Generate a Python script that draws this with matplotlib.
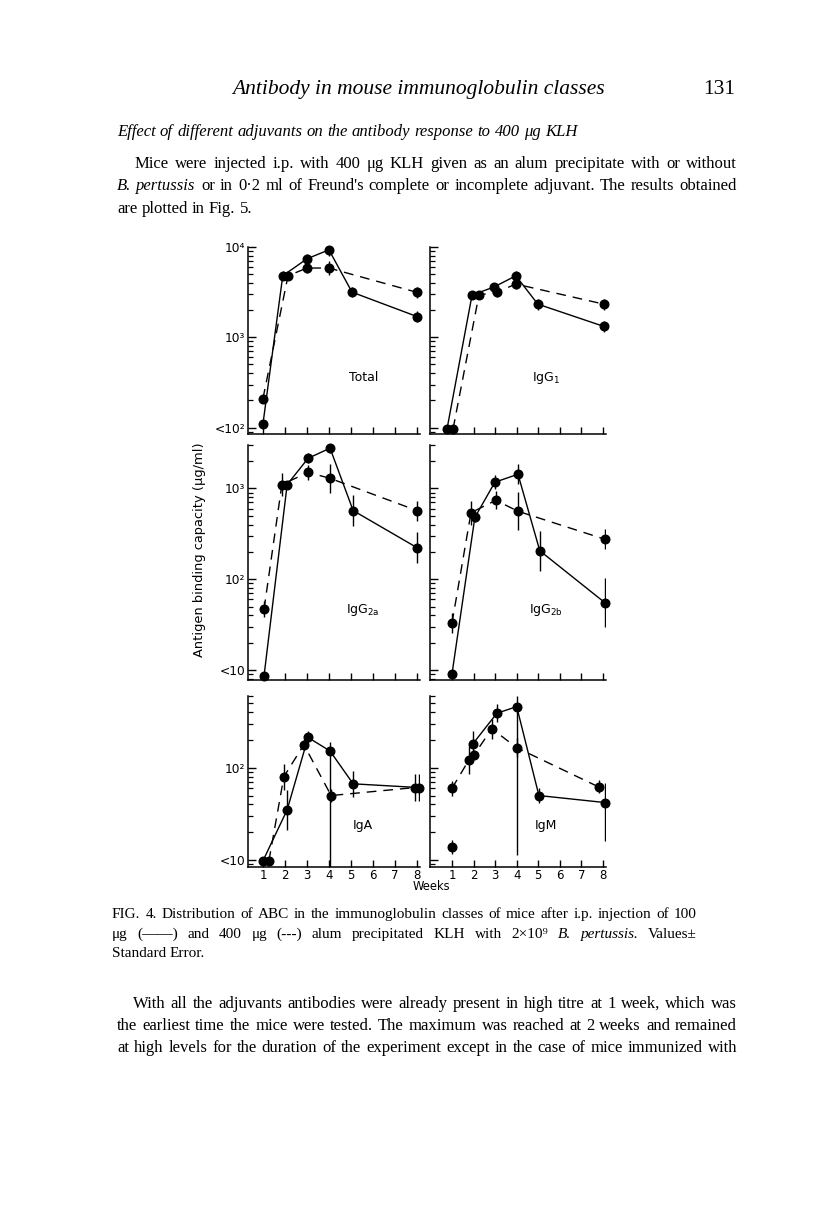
import numpy as np
import matplotlib
matplotlib.use("Agg")
import matplotlib.pyplot as plt
from matplotlib.ticker import LogLocator, NullFormatter, FixedLocator

W, H = 816, 1212

# ---- data (weeks, antigen binding capacity ug/ml, SE in log10 units) ----
WEEKS = [1, 2, 3, 4, 5, 6, 7, 8]

TOTAL_SOLID_X = [1.0, 1.9, 3.0, 4.0, 5.05, 8.0]
TOTAL_SOLID_Y = [110, 4800, 7400, 9300, 3160, 1700]
TOTAL_SOLID_SE = [0.03, 0.05, 0.05, 0.065, 0.055, 0.06]
TOTAL_DASH_X = [1.0, 2.14, 3.0, 4.0, 8.0]
TOTAL_DASH_Y = [210, 4800, 5850, 5850, 3150]
TOTAL_DASH_SE = [0.055, 0.05, 0.05, 0.08, 0.06]

IGG1_SOLID_X = [0.77, 1.93, 2.94, 3.96, 4.98, 8.04]
IGG1_SOLID_Y = [97, 2940, 3600, 4800, 2330, 1320]
IGG1_SOLID_SE = [0.02, 0.04, 0.05, 0.05, 0.06, 0.06]
IGG1_DASH_X = [1.05, 2.25, 3.08, 3.96, 8.04]
IGG1_DASH_Y = [97, 2940, 3160, 3890, 2330]
IGG1_DASH_SE = [0.02, 0.04, 0.05, 0.06, 0.06]

IGG2A_SOLID_X = [1.05, 2.1, 3.05, 4.05, 5.1, 8.0]
IGG2A_SOLID_Y = [8.7, 1100, 2140, 2770, 570, 223]
IGG2A_SOLID_SE = [0.04, 0.04, 0.055, 0.055, 0.17, 0.17]
IGG2A_DASH_X = [1.05, 1.86, 3.05, 4.05, 8.0]
IGG2A_DASH_Y = [47, 1100, 1500, 1290, 570]
IGG2A_DASH_SE = [0.09, 0.13, 0.08, 0.16, 0.11]

IGG2B_SOLID_X = [1.0, 2.06, 2.99, 4.06, 5.07, 8.1]
IGG2B_SOLID_Y = [9.1, 480, 1170, 1430, 206, 55]
IGG2B_SOLID_SE = [0.03, 0.05, 0.08, 0.11, 0.22, 0.27]
IGG2B_DASH_X = [1.0, 1.88, 3.03, 4.06, 8.1]
IGG2B_DASH_Y = [33, 540, 740, 560, 275]
IGG2B_DASH_SE = [0.11, 0.13, 0.1, 0.21, 0.11]

IGA_SOLID_X = [1.0, 2.1, 3.05, 4.05, 5.1, 8.1]
IGA_SOLID_Y = [9.8, 35, 213, 152, 67, 61]
IGA_SOLID_SE = [0.02, 0.22, 0.07, (1.3, 0.1), 0.14, 0.15]
IGA_DASH_X = [1.27, 1.95, 2.86, 4.1, 7.9]
IGA_DASH_Y = [9.8, 80, 178, 50, 61]
IGA_DASH_SE = [0.02, 0.14, 0.06, 0.07, 0.15]

IGM_LONE_X = [1.0]
IGM_LONE_Y = [13.8]
IGM_LONE_SE = [0.08]
IGM_SOLID_X = [1.97, 3.08, 4.0, 5.03, 8.08]
IGM_SOLID_Y = [182, 390, 460, 50, 42]
IGM_SOLID_SE = [0.14, 0.1, (1.61, 0.11), 0.08, (0.42, 0.21)]
IGM_DASH_X = [1.0, 1.79, 2.02, 2.85, 4.0, 7.8]
IGM_DASH_Y = [60, 122, 138, 265, 165, 62]
IGM_DASH_SE = [0.08, 0.15, 0.05, 0.11, 0.1, 0.07]

ROW_YTICKS = [[1e2, 1e3, 1e4], [1e1, 1e2, 1e3], [1e1, 1e2]]
ROW_YLABELS = [["<10²", "10³", "10⁴"], ["<10", "10²", "10³"], ["<10", "10²"]]

# ---- layout (pixels on the page) ----
COL_X = [(248, 420), (430, 606)]
COL_XLIM = [(0.32, 8.14), (-0.02, 8.14)]
ROW_Y = [(247, 434), (445, 680), (696, 867)]
ROW_YLIM = [(85, 1e4), (7.8, 3000), (8.4, 600)]

SERIF = "Liberation Serif"
SANS = "DejaVu Sans"
plt.rcParams["mathtext.default"] = "regular"

fig = plt.figure(figsize=(W / 100, H / 100), dpi=100)
fig.patch.set_facecolor("white")


def make_axes(col, row):
    x0, x1 = COL_X[col]
    top, bot = ROW_Y[row]
    ax = fig.add_axes([x0 / W, 1 - bot / H, (x1 - x0) / W, (bot - top) / H])
    ax.patch.set_alpha(0)
    ax.set_yscale("log")
    ax.set_xlim(*COL_XLIM[col])
    ax.set_ylim(*ROW_YLIM[row])
    for s in ("top", "right"):
        ax.spines[s].set_visible(False)
    for s in ("left", "bottom"):
        ax.spines[s].set_linewidth(1.1)
    ax.xaxis.set_major_locator(FixedLocator(WEEKS))
    ax.yaxis.set_minor_locator(LogLocator(base=10, subs=np.arange(2, 10), numticks=30))
    ax.yaxis.set_minor_formatter(NullFormatter())
    labels = ROW_YLABELS[row] if col == 0 else [""] * len(ROW_YTICKS[row])
    ax.set_yticks(ROW_YTICKS[row], labels)
    ax.tick_params(axis="y", which="major", direction="in", length=6, width=1.0,
                   labelsize=8.8, pad=2)
    ax.tick_params(axis="y", which="minor", direction="in", length=3.6, width=0.9)
    ax.tick_params(axis="x", direction="in", length=5, width=1.0, labelsize=8.5, pad=1.5)
    if row < 2:
        ax.set_xticklabels([])
    else:
        ax.set_xticklabels([str(w) for w in WEEKS])
    for lab in ax.get_xticklabels() + ax.get_yticklabels():
        lab.set_family(SANS)
    return ax


def draw_series(ax, xs, ys, se, ls, link=True):
    for x, y, e in zip(xs, ys, se):
        lo, hi = (e, e) if np.isscalar(e) else e
        ax.vlines(x, y * 10 ** -lo, y * 10 ** hi, color="black", lw=1.0, zorder=2)
    ax.plot(xs, ys, color="black", lw=1.0 if link else 0, ls=ls, marker="o", ms=6.2,
            mfc="black", mec="black", clip_on=False, zorder=3)


DASH = (0, (7, 5))
panels = [
    (0, 0, "Total", [(TOTAL_SOLID_X, TOTAL_SOLID_Y, TOTAL_SOLID_SE, "-"),
                     (TOTAL_DASH_X, TOTAL_DASH_Y, TOTAL_DASH_SE, DASH)]),
    (1, 0, "IgG$_{1}$", [(IGG1_SOLID_X, IGG1_SOLID_Y, IGG1_SOLID_SE, "-"),
                         (IGG1_DASH_X, IGG1_DASH_Y, IGG1_DASH_SE, DASH)]),
    (0, 1, "IgG$_{2a}$", [(IGG2A_SOLID_X, IGG2A_SOLID_Y, IGG2A_SOLID_SE, "-"),
                          (IGG2A_DASH_X, IGG2A_DASH_Y, IGG2A_DASH_SE, DASH)]),
    (1, 1, "IgG$_{2b}$", [(IGG2B_SOLID_X, IGG2B_SOLID_Y, IGG2B_SOLID_SE, "-"),
                          (IGG2B_DASH_X, IGG2B_DASH_Y, IGG2B_DASH_SE, DASH)]),
    (0, 2, "IgA", [(IGA_SOLID_X, IGA_SOLID_Y, IGA_SOLID_SE, "-"),
                   (IGA_DASH_X, IGA_DASH_Y, IGA_DASH_SE, DASH)]),
    (1, 2, "IgM", [(IGM_SOLID_X, IGM_SOLID_Y, IGM_SOLID_SE, "-"),
                   (IGM_DASH_X, IGM_DASH_Y, IGM_DASH_SE, DASH)]),
]

for col, row, name, series in panels:
    ax = make_axes(col, row)
    for xs, ys, se, ls in series:
        draw_series(ax, xs, ys, se, ls)
    if name == "IgM":
        draw_series(ax, IGM_LONE_X, IGM_LONE_Y, IGM_LONE_SE, "-", link=False)
    ax.text(0.67 if col == 0 else 0.66, 0.3 if row != 2 else 0.24, name,
            transform=ax.transAxes, ha="center", va="center", fontsize=9, family=SANS)

fig.text(199 / W, 1 - 550 / H, "Antigen binding capacity (μg/ml)", rotation=90,
         ha="center", va="center", fontsize=9.4, family=SANS)
fig.text(431 / W, 1 - 887 / H, "Weeks", ha="center", va="center", fontsize=8.3, family=SANS)

# ---- page text ----
renderer = fig.canvas.get_renderer()


def make_words(line, size, italic=False):
    # words between * * are set in italic
    texts = []
    ital = italic
    for w in line.split(" "):
        if w.startswith("*"):
            ital = True
        t = fig.text(0, 0, w.strip("*"), fontsize=size, family=SERIF,
                     style="italic" if ital else "normal", va="baseline", ha="left")
        texts.append(t)
        if w.endswith("*"):
            ital = italic
    return texts


def fit_size(line, width, base=12.0):
    # font size at which the line, with normal spaces, fills the width
    texts = make_words(line, base)
    total = sum(t.get_window_extent(renderer).width for t in texts)
    for t in texts:
        t.remove()
    space = base * 100 / 72 * 0.25 * (len(texts) - 1)
    return base * width / (total + space)


def put_line(line, x0, y, size, x1=None, italic=False):
    texts = make_words(line, size, italic)
    widths = [t.get_window_extent(renderer).width for t in texts]
    if x1 is None or len(texts) < 2:
        gap = size * 100 / 72 * 0.25
    else:
        gap = (x1 - x0 - sum(widths)) / (len(texts) - 1)
    x = x0
    for t, wd in zip(texts, widths):
        t.set_position((x / W, 1 - y / H))
        x += wd + gap


HEAD = "Antibody in mouse immunoglobulin classes"
SUB = "Effect of different adjuvants on the antibody response to 400 μg KLH"
PARA1 = ["Mice were injected i.p. with 400 μg KLH given as an alum precipitate with or without",
         "*B. pertussis* or in 0·2 ml of Freund's complete or incomplete adjuvant. The results obtained",
         "are plotted in Fig. 5."]
CAPTION = ["FIG. 4. Distribution of ABC in the immunoglobulin classes of mice after i.p. injection of 100",
           "μg (——) and 400 μg (- - -) alum precipitated KLH with 2×10⁹ *B. pertussis.* Values±",
           "Standard Error."]
PARA2 = ["With all the adjuvants antibodies were already present in high titre at 1 week, which was",
         "the earliest time the mice were tested. The maximum was reached at 2 weeks and remained",
         "at high levels for the duration of the experiment except in the case of mice immunized with"]

body = min(fit_size(PARA1[0], 737 - 135), fit_size(PARA1[1], 737 - 117),
           fit_size(PARA2[0], 737 - 133), fit_size(PARA2[1], 737 - 117),
           fit_size(PARA2[2], 737 - 117)) * 0.98
cap = min(fit_size(CAPTION[0], 697 - 112), fit_size(CAPTION[1], 697 - 112)) * 0.97

fig.text(418 / W, 1 - 94 / H, HEAD, fontsize=15.5, family=SERIF, style="italic",
         ha="center", va="baseline")
fig.text(735 / W, 1 - 94 / H, "131", fontsize=15.5, family=SERIF, ha="right", va="baseline")

put_line(SUB, 117, 136, body, italic=True)
put_line(PARA1[0], 135, 168, body, 737)
put_line(PARA1[1], 117, 190, body, 737)
put_line(PARA1[2], 117, 213, body)

put_line(CAPTION[0], 112, 918, cap, 697)
put_line(CAPTION[1].replace("(- - -)", "(---)"), 112, 938, cap, 697)
put_line(CAPTION[2], 112, 957, cap)

put_line(PARA2[0], 133, 1008, body, 737)
put_line(PARA2[1], 117, 1030, body, 737)
put_line(PARA2[2], 117, 1052, body, 737)

fig.savefig("out.png", dpi=100)
